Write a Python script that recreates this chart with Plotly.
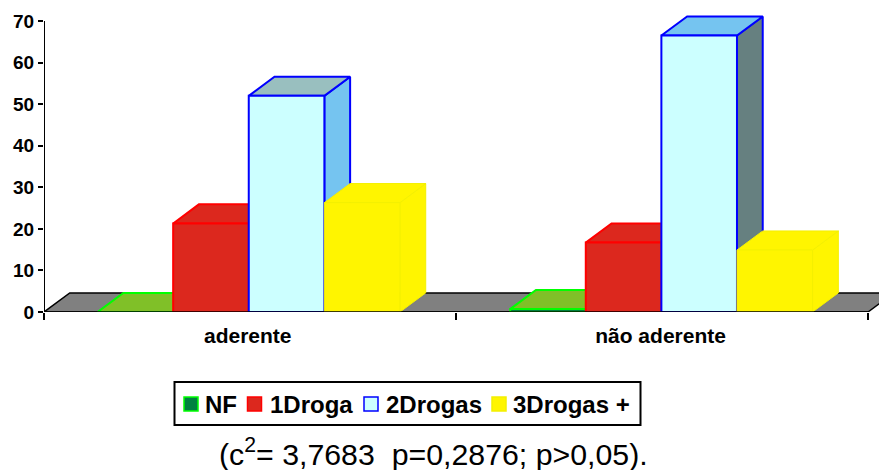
import plotly.graph_objects as go

categories = ["aderente", "não aderente"]
series_names = ["NF", "1Droga", "2Drogas", "3Drogas +"]
nf = [0, 0.7]
droga1 = [21.3, 16.7]
drogas2 = [52, 66.5]
drogas3 = [26.3, 14.9]
y_ticks = [0, 10, 20, 30, 40, 50, 60, 70]
note = "(c<sup>2</sup>= 3,7683\u00a0\u00a0p=0,2876; p>0,05)."

centers = [0.497, 1.4985]
bar_w = 0.1835
dep_x = 0.0625
dep_y = 4.6

values = [nf, droga1, drogas2, drogas3]
front = ["#008040", "#DC281E", "#CCFFFF", "#FFF500"]
edge = ["#00FF00", "#FF0000", "#0000FF", "#F4F000"]
top = [["#80C028"] * 2, ["#DC281E"] * 2, ["#99BFBF", "#75C4F0"], ["#FFF500"] * 2]
side = [["#008040"] * 2, ["#DC281E"] * 2, ["#75C4F0", "#668080"], ["#FFF500"] * 2]

fig = go.Figure()


def poly(xs, ys, fill, line, w=2):
    fig.add_trace(go.Scatter(
        x=xs + xs[:1], y=ys + ys[:1], mode="lines", fill="toself", fillcolor=fill,
        line=dict(color=line, width=w, simplify=False), cliponaxis=False,
        hoverinfo="skip", showlegend=False))


# floor
poly([0, dep_x, 2 + dep_x, 2], [0, dep_y, dep_y, 0], "#808080", "#000000", 1.5)

for g, c in enumerate(centers):
    for s, vals in enumerate(values):
        v = vals[g]
        x0 = c - 2 * bar_w + s * bar_w
        x1 = x0 + bar_w
        w = 1 if s == 3 else 2
        poly([x1, x1 + dep_x, x1 + dep_x, x1], [0, dep_y, v + dep_y, v], side[s][g], edge[s], w)
        poly([x0, x0 + dep_x, x1 + dep_x, x1], [v, v + dep_y, v + dep_y, v], top[s][g], edge[s], w)
        if v > 0:
            poly([x0, x1, x1, x0], [0, 0, v, v], front[s], edge[s], w)

# baseline over the bars, and the value axis line
fig.add_trace(go.Scatter(x=[0, 2], y=[0, 0], mode="lines", line=dict(color="#000000", width=1.5),
                         cliponaxis=False, hoverinfo="skip", showlegend=False))
fig.add_trace(go.Scatter(x=[0, 0], y=[0, 70], mode="lines", line=dict(color="#000000", width=2),
                         cliponaxis=False, hoverinfo="skip", showlegend=False))

L, R, T, B = 44, 879, 0, 312
X2 = 868
x_max = 2 * (R - L) / (X2 - L)
y_max = 70 * (B - T) / (312 - 21)


def px(x):
    return (x - L) / (R - L)


def py(y):
    return (B - y) / (B - T)


shapes = [dict(type="rect", xref="paper", yref="paper", x0=px(174.5), x1=px(640.5), y0=py(425), y1=py(382),
               line=dict(color="#000000", width=2), fillcolor="#FFFFFF")]
annotations = []
legend_x = [(184, 203), (247.5, 268), (364, 383.5), (492, 511)]
for i, name in enumerate(series_names):
    sx, tx = legend_x[i]
    shapes.append(dict(type="rect", xref="paper", yref="paper", x0=px(sx), x1=px(sx + 14), y0=py(411), y1=py(397),
                       line=dict(color=edge[i], width=1.5), fillcolor=front[i]))
    annotations.append(dict(xref="paper", yref="paper", x=px(tx), y=py(404), xanchor="left", yanchor="middle",
                            text=name, showarrow=False,
                            font=dict(family="Liberation Sans", size=24, color="#000000", weight="bold")))
annotations.append(dict(xref="paper", yref="paper", x=px(216.5), y=py(452), xanchor="left", yanchor="middle",
                        text=note, showarrow=False,
                        font=dict(family="Liberation Sans", size=30.3, color="#000000")))

fig.update_layout(
    width=879, height=470, autosize=False,
    margin=dict(l=L, r=879 - R, t=T, b=470 - B, pad=0),
    paper_bgcolor="#FFFFFF", plot_bgcolor="#FFFFFF",
    showlegend=False, shapes=shapes, annotations=annotations,
    xaxis=dict(range=[0, x_max], showgrid=False, zeroline=False, showline=False,
               tickmode="array", tickvals=[0.4945, 1.4965], ticktext=categories, ticks="",
               ticklabelstandoff=9,
               tickfont=dict(family="Liberation Sans", size=21, color="#000000", weight="bold"),
               minor=dict(tickmode="array", tickvals=[0, 1, 2], ticks="outside", ticklen=7,
                          tickwidth=1.5, tickcolor="#000000")),
    yaxis=dict(range=[0, y_max], showgrid=False, zeroline=False, showline=False,
               tickmode="array", tickvals=y_ticks, ticks="outside", ticklen=5, tickwidth=2, tickcolor="#000000",
               tickfont=dict(family="Liberation Sans", size=19, color="#000000", weight="bold")),
)

fig.write_html("out.html", config={"displayModeBar": False},
               post_script="document.body.style.margin='0';document.body.style.overflow='hidden';")
